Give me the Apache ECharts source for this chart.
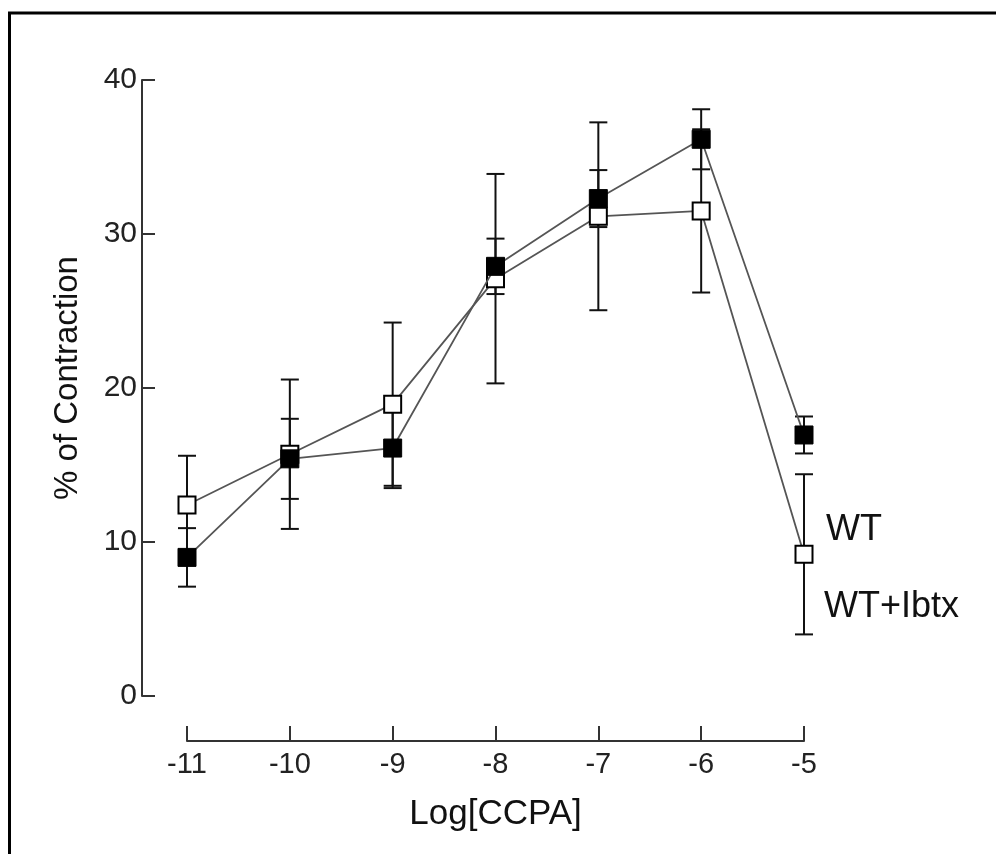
<!DOCTYPE html>
<html>
<head>
<meta charset="utf-8">
<style>
  html, body { margin: 0; padding: 0; background: #fff; }
  #chart { width: 996px; height: 854px; }
</style>
<script src="https://cdn.jsdelivr.net/npm/echarts@6/dist/echarts.min.js"></script>
</head>
<body>
<div id="chart"></div>
<script>
// ---- data ----
const logConc = [-11, -10, -9, -8, -7, -6, -5];
const wtMean = [9.0, 15.4, 16.1, 27.9, 32.3, 36.15, 16.95];
const wtErr = [1.9, 2.6, 2.6, 1.8, 1.85, 1.95, 1.2];
const ibtxMean = [12.4, 15.7, 18.95, 27.1, 31.15, 31.5, 9.2];
const ibtxErr = [3.2, 4.85, 5.3, 6.8, 6.1, 5.3, 5.2];
const yTicks = [0, 10, 20, 30, 40];
const seriesNames = ['WT', 'WT+Ibtx'];

const FONT = '"Liberation Sans", Arial, sans-serif';
const AXIS_COLOR = '#333';

function pairs(xs, ys) { return xs.map((x, i) => [x, ys[i]]); }
function errData(xs, m, e) { return xs.map((x, i) => [x, m[i] - e[i], m[i] + e[i]]); }

function errorRender(params, api) {
  const x = api.value(0);
  const lo = api.coord([x, api.value(1)]);
  const hi = api.coord([x, api.value(2)]);
  const hw = 9;
  const style = { stroke: '#111', lineWidth: 2, fill: null };
  return {
    type: 'group',
    children: [
      { type: 'line', shape: { x1: lo[0], y1: lo[1], x2: hi[0], y2: hi[1] }, style: style },
      { type: 'line', shape: { x1: lo[0] - hw, y1: lo[1], x2: lo[0] + hw, y2: lo[1] }, style: style },
      { type: 'line', shape: { x1: hi[0] - hw, y1: hi[1], x2: hi[0] + hw, y2: hi[1] }, style: style }
    ]
  };
}

const chart = echarts.init(document.getElementById('chart'), null, { renderer: 'canvas' });
chart.setOption({
  backgroundColor: '#fff',
  animation: false,
  grid: { left: 187, right: 192, top: 80, bottom: 158 },
  xAxis: {
    type: 'value',
    min: -11, max: -5, interval: 1,
    offset: 45,
    name: 'Log[CCPA]',
    nameLocation: 'middle',
    nameGap: 56,
    nameTextStyle: { fontFamily: FONT, fontSize: 35, color: '#111' },
    axisLine: { show: true, onZero: false, lineStyle: { color: AXIS_COLOR, width: 2 } },
    axisTick: { show: true, inside: true, length: 15, lineStyle: { color: AXIS_COLOR, width: 2 } },
    axisLabel: { margin: 9, fontFamily: FONT, fontSize: 29, color: '#222' },
    splitLine: { show: false }
  },
  yAxis: {
    type: 'value',
    min: 0, max: 40, interval: 10,
    offset: 45,
    name: '% of Contraction',
    nameLocation: 'middle',
    nameGap: 58,
    nameRotate: 90,
    nameTextStyle: { fontFamily: FONT, fontSize: 33, color: '#111', padding: [0, 0, 0, 20] },
    axisLine: { show: true, onZero: false, lineStyle: { color: AXIS_COLOR, width: 2 } },
    axisTick: { show: true, inside: true, length: 13, lineStyle: { color: AXIS_COLOR, width: 2 } },
    axisLabel: { margin: 5, fontFamily: FONT, fontSize: 30, color: '#222',
      formatter: function (v) { return yTicks.indexOf(v) >= 0 ? String(v) : ''; } },
    splitLine: { show: false }
  },
  graphic: [
    { type: 'line', shape: { x1: 8, y1: 13, x2: 996, y2: 13 }, style: { stroke: '#000', lineWidth: 3 } },
    { type: 'line', shape: { x1: 9.5, y1: 12, x2: 9.5, y2: 854 }, style: { stroke: '#000', lineWidth: 3 } },
    { type: 'text', left: 826, top: 512, style: { text: seriesNames[0], font: '36px ' + FONT, fill: '#111' } },
    { type: 'text', left: 824, top: 589, style: { text: seriesNames[1], font: '36px ' + FONT, fill: '#111' } }
  ],
  series: [
    {
      type: 'custom', name: seriesNames[1] + ' err', renderItem: errorRender,
      data: errData(logConc, ibtxMean, ibtxErr), z: 1, silent: true
    },
    {
      type: 'custom', name: seriesNames[0] + ' err', renderItem: errorRender,
      data: errData(logConc, wtMean, wtErr), z: 1, silent: true
    },
    {
      type: 'line', name: seriesNames[1], data: pairs(logConc, ibtxMean), z: 3,
      symbol: 'rect', symbolSize: 17, showAllSymbol: true,
      lineStyle: { color: '#555', width: 1.8 },
      itemStyle: { color: '#fff', borderColor: '#000', borderWidth: 2 }
    },
    {
      type: 'line', name: seriesNames[0], data: pairs(logConc, wtMean), z: 4,
      symbol: 'rect', symbolSize: 18, showAllSymbol: true,
      lineStyle: { color: '#555', width: 1.8 },
      itemStyle: { color: '#000', borderColor: '#000', borderWidth: 1 }
    }
  ]
});
</script>
</body>
</html>
